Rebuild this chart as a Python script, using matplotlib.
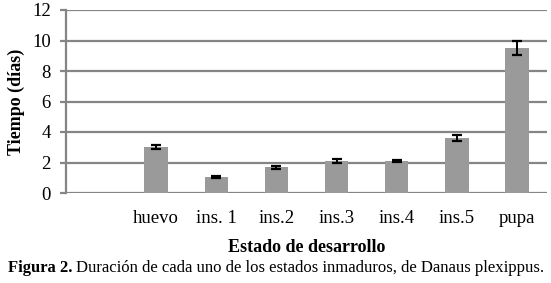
import matplotlib

matplotlib.use("Agg")
import matplotlib.pyplot as plt

# datos
estados = ["", "huevo", "ins. 1", "ins.2", "ins.3", "ins.4", "ins.5", "pupa"]
dias = [0, 3.0, 1.05, 1.68, 2.1, 2.1, 3.6, 9.5]
error = [0, 0.12, 0.04, 0.09, 0.1, 0.08, 0.18, 0.48]

GRID = "#858585"
BAR = "#9a9a9a"
SERIF = ["Liberation Serif", "DejaVu Serif"]

plt.rcParams["font.family"] = SERIF

fig = plt.figure(figsize=(5.51, 2.83), dpi=100)
ax = fig.add_axes((66 / 551, 1 - 193 / 283, 481 / 551, 183 / 283))

x = range(len(estados))
ax.bar(x, dias, width=0.39, color=BAR, zorder=2)
ax.errorbar(list(x)[1:], dias[1:], yerr=error[1:], fmt="none", ecolor="black",
            elinewidth=1.4, capsize=3.5, capthick=1.6, zorder=3)

ax.set_xlim(-0.5, len(estados) - 0.5)
ax.set_ylim(0, 12)
ax.set_yticks(range(0, 13, 2))
ax.set_xticks(list(x))
ax.set_xticklabels(estados)
ax.yaxis.grid(True, color=GRID, linewidth=1.6, zorder=0)
ax.set_axisbelow(True)
for s in ("top", "right", "bottom"):
    ax.spines[s].set_visible(False)
ax.spines["left"].set_color(GRID)
ax.spines["left"].set_linewidth(1.6)
ax.tick_params(axis="y", length=4, width=1.6, color=GRID, labelsize=13.5, pad=7)
ax.tick_params(axis="x", length=0, labelsize=13.5, pad=12)

ax.set_ylabel("Tiempo (días)", fontsize=13, fontweight="bold", labelpad=5)
ax.set_xlabel("Estado de desarrollo", fontsize=13, fontweight="bold", labelpad=9)

# pie de figura: "Figura 2." en negrita + resto normal
t1 = fig.text(8 / 551, 1 - 268 / 283, "Figura 2.", fontsize=12, fontweight="bold",
              va="center", ha="left")
fig.canvas.draw()
bb = t1.get_window_extent()
fig.text(bb.x1 / fig.bbox.width + 0.007, 1 - 268 / 283,
         "Duración de cada uno de los estados inmaduros, de Danaus plexippus.",
         fontsize=12, va="center", ha="left")

fig.savefig("out.png", dpi=100)
